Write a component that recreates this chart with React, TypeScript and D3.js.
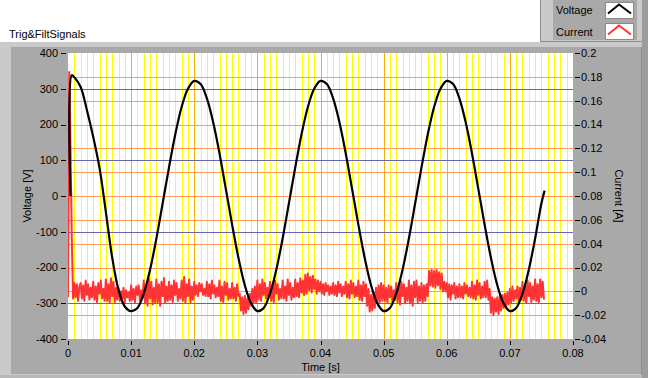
import React from 'react';
import * as d3 from 'd3';

const W = 648;
const H = 378;

// Axis ticks
const timeTicks = [0, 0.01, 0.02, 0.03, 0.04, 0.05, 0.06, 0.07, 0.08];
const voltageTicks = [400, 300, 200, 100, 0, -100, -200, -300, -400];
const currentTicks = [0.2, 0.18, 0.16, 0.14, 0.12, 0.1, 0.08, 0.06, 0.04, 0.02, 0, -0.02, -0.04];

// Voltage trace (time in ms, value in V)
const voltageTimesMs = [
  0.4, 0.6, 1, 2, 3, 4, 5, 6, 7, 8, 9,
  10, 11, 12, 13, 14, 15, 16, 17, 18, 19,
  20, 21, 22, 23, 24, 25, 26, 27, 28, 29,
  30, 31, 32, 33, 34, 35, 36, 37, 38, 39,
  40, 41, 42, 43, 44, 45, 46, 47, 48, 49,
  50, 51, 52, 53, 54, 55, 56, 57, 58, 59,
  60, 61, 62, 63, 64, 65, 66, 67, 68, 69,
  70, 71, 72, 73, 74, 75, 75.5,
];
const voltageValues = [
  0, 338, 332, 305, 240, 165, 78, -45, -172, -262, -309,
  -322, -313, -273, -206, -119, -20, 80, 173, 249, 300,
  322, 313, 273, 206, 119, 20, -80, -173, -249, -300,
  -322, -313, -273, -206, -119, -20, 80, 173, 249, 300,
  322, 313, 273, 206, 119, 20, -80, -173, -249, -300,
  -322, -313, -273, -206, -119, -20, 80, 173, 249, 300,
  322, 313, 273, 206, 119, 20, -80, -173, -249, -300,
  -322, -313, -273, -206, -119, -20, 15,
];

// Current trace, sampled every 0.2 ms, values in mA
const currentDtS = 0.0002;
const currentValuesMA = [
  -5, 184, 120, 45, -6, 7, -5, 6, -8, 4,
  7, -6, 5, -8, 9, -3, 6, -7, 3, -5,
  8, -7, 4, -9, 7, -2, 9, -6, 2, -8,
  10, -8, 6, -10, 11, -4, 8, -9, 3, -7,
  2, -8, 0, -6, 3, -9, 1, -5, -1, -8,
  5, -7, 2, -9, 4, -3, 5, -8, 1, -6,
  9, -10, 5, -12, 11, -6, 8, -11, 3, -9,
  10, -9, 6, -12, 8, -4, 11, -10, 4, -8,
  8, -7, 5, -9, 9, -3, 7, -8, 2, -6,
  9, -8, 12, -10, 6, -4, 10, -9, 4, -7,
  8, -3, 5, -4, 7, 0, 6, -3, 2, -4,
  8, -4, 6, -6, 9, -2, 5, -5, 3, -4,
  9, -8, 4, -9, 8, -3, 7, -7, 2, -6,
  7, -6, 3, -8, 6, -4, -2, -16, -5, -19,
  -4, -18, -6, -15, -2, -12, 2, -10, 4, -9,
  9, -7, 6, -8, 10, -3, 7, -6, 3, -5,
  8, -8, 5, -9, 9, -2, 6, -7, 2, -6,
  9, -6, 4, -8, 10, -3, 7, -7, 3, -5,
  10, -4, 7, -5, 11, -1, 9, -3, 14, -2,
  15, 1, 12, -1, 13, 2, 10, -2, 9, 0,
  8, -2, 6, -3, 7, 0, 5, -3, 4, -2,
  7, -3, 5, -4, 8, -1, 6, -4, 4, -2,
  8, -5, 6, -6, 9, -2, 7, -5, 4, -4,
  9, -7, 5, -8, 8, -4, 6, -12, 2, -17,
  -3, -16, -1, -14, 3, -10, 5, -9, 7, -8,
  5, -8, 3, -10, 5, -5, 4, -9, 1, -7,
  7, -9, 4, -11, 8, -4, 6, -10, 3, -8,
  9, -10, 5, -12, 8, -5, 9, -9, 4, -8,
  7, -9, 5, -8, 6, -4, 17, 5, 18, 4,
  17, 3, 18, 5, 16, 2, 15, 0, 8, 0,
  7, -5, 6, -7, 5, -2, 7, -6, 4, -5,
  6, -5, 4, -6, 7, -2, 5, -4, 3, -5,
  8, -6, 5, -7, 9, -3, 7, -6, 4, -5,
  8, -5, 9, -7, 2, -18, -5, -20, -6, -17,
  -5, -19, -4, -16, -3, -14, -2, -13, -1, -11,
  2, -9, 4, -8, 1, -6, 4, -9, 3, -7,
  8, -8, 5, -10, 9, -4, 7, -9, 4, -7,
  10, -8, 6, -9, 10, -5, 8, -7,
];

const title = 'Trig&FiltSignals';
const legendNames = ['Voltage', 'Current'];
const legendColors = ['#000000', '#ff3333'];

const FONT = "'Liberation Sans', Arial, sans-serif";

export default function App() {
  const left = 68, right = 573, top = 53, bottom = 339;
  const x = d3.scaleLinear().domain([0, 0.08]).range([left, right]);
  const yV = d3.scaleLinear().domain([-400, 400]).range([bottom, top]);
  const yA = d3.scaleLinear().domain([-0.04, 0.2]).range([bottom, top]);
  const crisp = (v: number) => Math.round(v) + 0.5;

  const vPts: [number, number][] = voltageTimesMs.map((t, i) => [t / 1000, voltageValues[i]]);
  const cPts: [number, number][] = currentValuesMA.map((v, i) => [i * currentDtS, v / 1000]);

  const vLine = d3.line<[number, number]>().x(d => x(d[0])).y(d => yV(d[1])).curve(d3.curveCatmullRom.alpha(0.5));
  const cLine = d3.line<[number, number]>().x(d => x(d[0])).y(d => yA(d[1]));

  const minorIdx = d3.range(1, 80);
  const fmtA = (v: number) => String(+v.toFixed(2));

  return (
    <div style={{ position: 'absolute', left: 0, top: 0 }}>
      <svg width={W} height={H} style={{ display: 'block' }} fontFamily={FONT} fontSize={11}>
        <rect x={0} y={0} width={W} height={H} fill="#ffffff" />
        {/* outer frame */}
        <rect x={0} y={42} width={W} height={H - 42} fill="#cacaca" />
        <rect x={11} y={47} width={630} height={327} fill="#a9a9a9" />
        <rect x={642} y={0} width={6} height={H} fill="#9c9c9c" />
        <rect x={0} y={375} width={642} height={3} fill="#b8b8b8" />
        <rect x={641} y={47} width={1} height={328} fill="#8e8e8e" />
        {/* legend */}
        <rect x={540} y={0} width={102} height={41} fill="#cacaca" />
        <rect x={540} y={0} width={1} height={41} fill="#8e8e8e" />
        <rect x={540} y={41} width={102} height={1} fill="#8e8e8e" />
        <rect x={553} y={0} width={84} height={40} fill="#a9a9a9" />
        {legendNames.map((n, i) => {
          const y0 = i === 0 ? 2.5 : 23.5;
          return (
            <g key={n}>
              <text x={556} y={i === 0 ? 14 : 36} fill="#000">{n}</text>
              <rect x={605.5} y={y0} width={28} height={16} fill="#ffffff" stroke="#8a8a8a" strokeWidth={1} />
              <polyline
                points={`608,${y0 + 11} 619,${y0 + 2} 631,${y0 + 11}`}
                fill="none"
                stroke={legendColors[i]}
                strokeWidth={2}
              />
            </g>
          );
        })}
        {/* title */}
        <text x={9} y={38} fill="#000">{title}</text>

        {/* plot area */}
        <rect x={left} y={top} width={right - left} height={bottom - top} fill="#ffffff" />
        <g shapeRendering="crispEdges">
          {minorIdx.map(i => {
            const xx = crisp(x(i / 1000));
            const major = i % 10 === 0;
            return (
              <line key={'v' + i} x1={xx} x2={xx} y1={top} y2={bottom}
                stroke={major ? '#f5b300' : '#ffff00'} strokeWidth={1} />
            );
          })}
          {voltageTicks.filter(v => v !== 400 && v !== -400).map(v => (
            <line key={'hb' + v} x1={left} x2={right} y1={crisp(yV(v))} y2={crisp(yV(v))}
              stroke="#6868a8" strokeWidth={1} />
          ))}
          {currentTicks.filter(v => v !== 0.2 && v !== -0.04).map(v => (
            <line key={'ho' + v} x1={left} x2={right} y1={crisp(yA(v))} y2={crisp(yA(v))}
              stroke="#ff9d55" strokeWidth={1} />
          ))}
        </g>
        <defs>
          <clipPath id="plotClip">
            <rect x={left} y={top} width={right - left} height={bottom - top} />
          </clipPath>
        </defs>
        <g clipPath="url(#plotClip)">
          <path d={cLine(cPts) || ''} fill="none" stroke="#ff3333" strokeWidth={2} strokeLinejoin="round" />
          <path d={vLine(vPts) || ''} fill="none" stroke="#000000" strokeWidth={2.2} strokeLinejoin="round" />
        </g>

        {/* axes */}
        <g shapeRendering="crispEdges">
          {voltageTicks.map(v => (
            <line key={'lt' + v} x1={61} x2={66} y1={crisp(yV(v))} y2={crisp(yV(v))} stroke="#000" />
          ))}
          {currentTicks.map(v => (
            <line key={'rt' + v} x1={575} x2={580} y1={crisp(yA(v))} y2={crisp(yA(v))} stroke="#000" />
          ))}
          {timeTicks.map(t => (
            <line key={'bt' + t} x1={crisp(x(t))} x2={crisp(x(t))} y1={341} y2={345} stroke="#000" />
          ))}
        </g>
        {voltageTicks.map(v => (
          <text key={'ll' + v} x={58} y={yV(v)} dy="0.35em" textAnchor="end" fill="#000">{v}</text>
        ))}
        {currentTicks.map(v => (
          <text key={'rl' + v} x={581} y={yA(v)} dy="0.35em" textAnchor="start" fill="#000">{fmtA(v)}</text>
        ))}
        {timeTicks.map(t => (
          <text key={'bl' + t} x={x(t)} y={357} textAnchor="middle" fill="#000">{String(+t.toFixed(2))}</text>
        ))}
        <text x={(left + right) / 2} y={371} textAnchor="middle" fill="#000">Time [s]</text>
        <text transform={`translate(31,196) rotate(-90)`} textAnchor="middle" fill="#000">Voltage [V]</text>
        <text transform={`translate(615,196) rotate(90)`} textAnchor="middle" fill="#000">Current [A]</text>
      </svg>
    </div>
  );
}
